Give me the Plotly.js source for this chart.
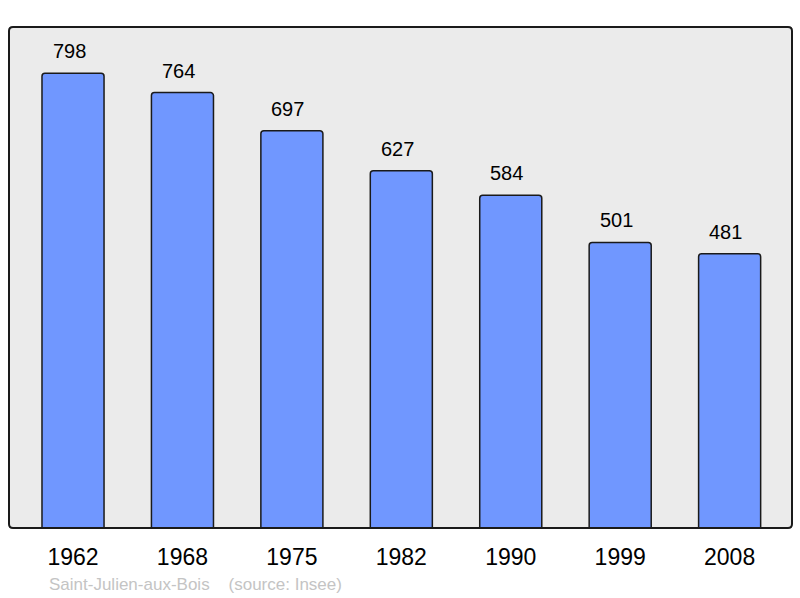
<!DOCTYPE html>
<html><head><meta charset="utf-8">
<script src="https://cdn.plot.ly/plotly-3.0.1.min.js"></script>
<style>body{margin:0;background:#fff}#c{width:800px;height:598px}</style>
</head><body><div id="c"></div>
<script>
const years = ["1962","1968","1975","1982","1990","1999","2008"];
const population = [798,764,697,627,584,501,481];
const place = "Saint-Julien-aux-Bois";
const source = "(source: Insee)";

const idx = years.map((_, i) => i);
const trace = {
  type: "bar", x: idx, y: population,
  marker: {color: "#7097ff", line: {color: "#1a1a1a", width: 1.5}, cornerradius: 3},
  hoverinfo: "none"
};
const annotations = idx.map(i => ({
  x: i, y: population[i], text: String(population[i]), showarrow: false,
  yanchor: "bottom", yshift: 9, xshift: -4, font: {family: "Liberation Sans, Arial", size: 20, color: "#000"}
}));
annotations.push({
  xref: "paper", yref: "paper", x: 0.048, y: -0.112, xanchor: "left", yanchor: "middle",
  text: place + "&nbsp;&nbsp;&nbsp;&nbsp;" + source, showarrow: false,
  font: {family: "Liberation Sans, Arial", size: 17, color: "#c4c4c4"}
});
// rounded frame around the plot area (paper coords)
const rx = 4 / 783, ry = 4 / 501;
const framePath = `M ${rx},0 L ${1 - rx},0 Q 1,0 1,${ry} L 1,${1 - ry} Q 1,1 ${1 - rx},1 ` +
  `L ${rx},1 Q 0,1 0,${1 - ry} L 0,${ry} Q 0,0 ${rx},0 Z`;
const layout = {
  width: 800, height: 598,
  margin: {l: 9, r: 8, t: 27, b: 70},
  paper_bgcolor: "#fff", plot_bgcolor: "#ebebeb",
  showlegend: false,
  bargap: 0.433,
  xaxis: {type: "linear", range: [-0.585, 6.57], tickmode: "array", tickvals: idx, ticktext: years,
    showgrid: false, zeroline: false, showline: false,
    ticks: "outside", ticklen: 8, tickcolor: "rgba(0,0,0,0)",
    tickfont: {family: "Liberation Sans, Arial", size: 23, color: "#000"}},
  yaxis: {range: [0, 879], showgrid: false, zeroline: false, showticklabels: false, showline: false},
  shapes: [{type: "path", xref: "paper", yref: "paper", path: framePath,
    line: {color: "#1a1a1a", width: 2}, layer: "above"}],
  annotations: annotations
};
Plotly.newPlot("c", [trace], layout, {displayModeBar: false, staticPlot: true});
</script></body></html>
